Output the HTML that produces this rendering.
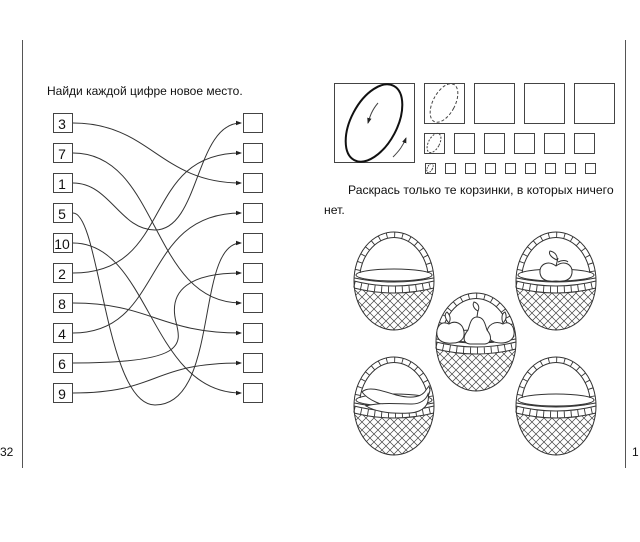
<!DOCTYPE html>
<html><head><meta charset="utf-8"><style>
html,body{margin:0;padding:0;background:#fff;}
svg{display:block;}
text{font-family:"Liberation Sans",sans-serif;fill:#111;}
</style></head><body>
<svg width="640" height="542" viewBox="0 0 640 542" xmlns="http://www.w3.org/2000/svg">
<defs>
  <marker id="ar" markerWidth="6" markerHeight="6" refX="5" refY="3" orient="auto" markerUnits="userSpaceOnUse">
    <path d="M0,0.8 L6,3 L0,5.2 Z" fill="#222"/>
  </marker>
  <pattern id="lat" width="8" height="8" patternUnits="userSpaceOnUse">
    <path d="M-1,-1 L9,9 M-1,7 L1,9 M7,-1 L9,1 M9,-1 L-1,9 M-1,1 L1,-1 M7,9 L9,7" stroke="#444" stroke-width="0.7"/>
  </pattern>
  <clipPath id="bot"><path d="M-40,7 Q0,17 40,7 L40,60 L-40,60 Z"/></clipPath>
  <clipPath id="inner"><ellipse cx="0" cy="0" rx="40" ry="49"/></clipPath>
  <clipPath id="top"><rect x="-50" y="-60" width="100" height="52"/></clipPath>
  <g id="basket" fill="none" stroke="#333" stroke-width="1">
    <g clip-path="url(#inner)">
      <rect x="-40" y="-10" width="80" height="60" fill="url(#lat)" stroke="none" clip-path="url(#bot)"/>
    </g>
    <ellipse cx="0" cy="0" rx="40" ry="49"/>
    <g clip-path="url(#top)">
      <ellipse cx="0" cy="0" rx="34.5" ry="43.5"/>
      <ellipse cx="0" cy="0" rx="37.3" ry="46.3" stroke-width="5" stroke-dasharray="0.9 7"/>
    </g>
    <ellipse cx="0" cy="-6" rx="38" ry="6"/>
    <path d="M-39.5,-3 Q0,5 39.5,-3"/>
    <path d="M-40,0 Q0,10 40,0"/>
    <path d="M-40,7 Q0,17 40,7"/>
    <path d="M-40,3.5 Q0,13.5 40,3.5" stroke-width="6" stroke-dasharray="0.9 6"/>
  </g>
</defs>

<line x1="22.5" y1="40" x2="22.5" y2="468" stroke="#555" stroke-width="1"/>
<line x1="625.5" y1="40" x2="625.5" y2="468" stroke="#555" stroke-width="1"/>
<text x="0" y="456" font-size="12">32</text>
<text x="632" y="456" font-size="12">1</text>

<text x="47" y="95" font-size="12">Найди каждой цифре новое место.</text>
<g fill="#fff" stroke="#444" stroke-width="1">
  <rect x="53.5" y="113.5" width="19" height="19"/><rect x="53.5" y="143.5" width="19" height="19"/>
  <rect x="53.5" y="173.5" width="19" height="19"/><rect x="53.5" y="203.5" width="19" height="19"/>
  <rect x="53.5" y="233.5" width="19" height="19"/><rect x="53.5" y="263.5" width="19" height="19"/>
  <rect x="53.5" y="293.5" width="19" height="19"/><rect x="53.5" y="323.5" width="19" height="19"/>
  <rect x="53.5" y="353.5" width="19" height="19"/><rect x="53.5" y="383.5" width="19" height="19"/>
  <rect x="243.5" y="113.5" width="19" height="19"/><rect x="243.5" y="143.5" width="19" height="19"/>
  <rect x="243.5" y="173.5" width="19" height="19"/><rect x="243.5" y="203.5" width="19" height="19"/>
  <rect x="243.5" y="233.5" width="19" height="19"/><rect x="243.5" y="263.5" width="19" height="19"/>
  <rect x="243.5" y="293.5" width="19" height="19"/><rect x="243.5" y="323.5" width="19" height="19"/>
  <rect x="243.5" y="353.5" width="19" height="19"/><rect x="243.5" y="383.5" width="19" height="19"/>
</g>
<g font-size="14" text-anchor="middle">
  <text x="62" y="129">3</text><text x="62" y="159">7</text><text x="62" y="189">1</text>
  <text x="62" y="219">5</text><text x="62" y="249">10</text><text x="62" y="279">2</text>
  <text x="62" y="309">8</text><text x="62" y="339">4</text><text x="62" y="369">6</text>
  <text x="62" y="399">9</text>
</g>
<g fill="none" stroke="#333" stroke-width="1" marker-end="url(#ar)">
  <path d="M73,123 C150,123 160,183 241,183"/>
  <path d="M73,153 C160,153 150,303 241,303"/>
  <path d="M73,183 C110,183 120,230 155,230 C200,230 195,123 241,123"/>
  <path d="M73,213 C100,213 105,405 155,405 C220,405 195,243 241,243"/>
  <path d="M73,243 C150,243 150,393 241,393"/>
  <path d="M73,273 C175,273 140,153 241,153"/>
  <path d="M73,303 C150,303 160,333 241,333"/>
  <path d="M73,333 C165,333 140,213 241,213"/>
  <path d="M73,363 C185,363 182,345 176,322 C168,290 190,273 241,273"/>
  <path d="M73,393 C160,393 150,363 241,363"/>
</g>

<g fill="none" stroke="#444" stroke-width="1">
  <rect x="334.5" y="83.5" width="80" height="79"/>
  <rect x="424.5" y="83.5" width="40" height="40"/><rect x="474.5" y="83.5" width="40" height="40"/>
  <rect x="524.5" y="83.5" width="40" height="40"/><rect x="574.5" y="83.5" width="40" height="40"/>
  <rect x="424.5" y="133.5" width="20" height="20"/><rect x="454.5" y="133.5" width="20" height="20"/>
  <rect x="484.5" y="133.5" width="20" height="20"/><rect x="514.5" y="133.5" width="20" height="20"/>
  <rect x="544.5" y="133.5" width="20" height="20"/><rect x="574.5" y="133.5" width="20" height="20"/>
  <rect x="425.5" y="163.5" width="10" height="10"/><rect x="445.5" y="163.5" width="10" height="10"/>
  <rect x="465.5" y="163.5" width="10" height="10"/><rect x="485.5" y="163.5" width="10" height="10"/>
  <rect x="505.5" y="163.5" width="10" height="10"/><rect x="525.5" y="163.5" width="10" height="10"/>
  <rect x="545.5" y="163.5" width="10" height="10"/><rect x="565.5" y="163.5" width="10" height="10"/>
  <rect x="585.5" y="163.5" width="10" height="10"/>
  <ellipse cx="374" cy="123" rx="23" ry="42" transform="rotate(28 374 123)" stroke="#111" stroke-width="2"/>
  <ellipse cx="444" cy="103" rx="11" ry="21" transform="rotate(28 444 103)" stroke-dasharray="3 2"/>
  <ellipse cx="434" cy="143" rx="5.5" ry="10.5" transform="rotate(28 434 143)" stroke-dasharray="2 1.5"/>
  <ellipse cx="430" cy="168" rx="2.5" ry="5" transform="rotate(28 430 168)" stroke-dasharray="1.5 1"/>
  <path d="M378,103 C372,110 370,116 368,123" marker-end="url(#ar)"/>
  <path d="M393,157 C399,151 403,146 406,138" marker-end="url(#ar)"/>
</g>
<text x="348" y="194" font-size="12.2">Раскрась только те корзинки, в которых ничего</text>
<text x="324" y="214" font-size="12.2">нет.</text>

<use href="#basket" x="394" y="281"/>
<use href="#basket" x="556" y="281"/>
<use href="#basket" x="476" y="342"/>
<use href="#basket" x="394" y="406"/>
<use href="#basket" x="556" y="406"/>

<g fill="#fff" stroke="#333" stroke-width="1">
  <path d="M556,266 C548,260 539,264 540,273 C541,280 547,282 556,281 C565,282 571,280 572,273 C573,264 564,260 556,266 Z"/>
  <path d="M556,266 L558,258" fill="none"/>
  <path d="M557,260 C552,258 548,254 550,251 C555,252 558,256 557,260 Z"/>
  <path d="M558,262 C562,260 566,260 568,262" fill="none"/>
</g>
<g fill="#fff" stroke="#333" stroke-width="1">
  <path d="M449,324 C440,320 436,328 437,335 C438,341 444,344 453,343 C460,343 465,339 464,332 C463,323 455,320 449,324 Z"/>
  <path d="M503,324 C495,320 487,325 487,333 C488,340 494,343 501,343 C510,343 515,338 514,331 C513,324 508,321 503,324 Z"/>
  <path d="M477,317 C471,317 470,324 468,330 C463,336 462,343 470,344 L485,344 C492,343 492,336 487,330 C485,324 484,317 477,317 Z"/>
  <path d="M477,317 L478,310" fill="none"/>
  <path d="M478,311 C474,309 472,305 474,302 C478,303 480,307 478,311 Z"/>
  <path d="M449,323 C445,319 444,314 447,312 C450,315 451,319 449,323 Z"/>
  <path d="M503,323 C501,318 502,313 505,312 C507,316 506,320 503,323 Z"/>
</g>
<g fill="#fff" stroke="#333" stroke-width="1">
  <path d="M362,392 C368,386 380,390 396,395 C412,399 422,397 426,390 L429,386 L430,390 C428,402 416,410 398,408 C382,406 368,400 362,392 Z"/>
  <path d="M366,406 C380,402 400,404 412,404 C420,404 426,400 428,394 C430,404 424,412 410,413 C392,414 376,412 366,406 Z"/>
</g>
</svg>
</body></html>
